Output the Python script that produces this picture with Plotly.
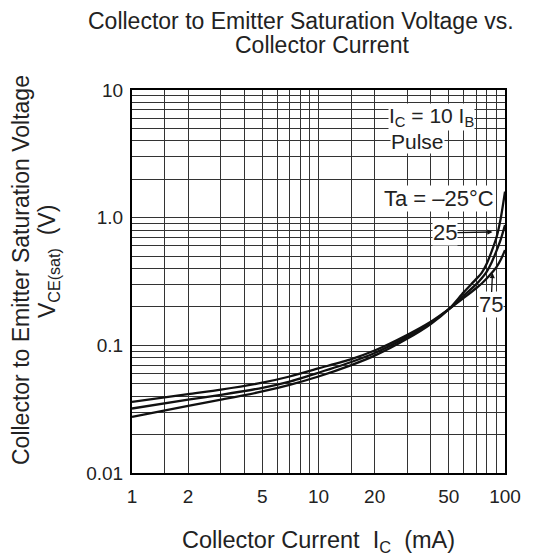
import math
import plotly.graph_objects as go

# ---- data ----
ic_ma = [1, 2, 3, 5, 7, 10, 15, 20, 30, 40, 50, 60, 70, 75, 80, 85, 90, 95, 100]
vce_75 = [0.036, 0.0415, 0.045, 0.051, 0.057, 0.066, 0.078, 0.091, 0.121, 0.153, 0.192,
          0.235, 0.280, 0.305, 0.335, 0.370, 0.410, 0.470, 0.557]
vce_25 = [0.032, 0.0375, 0.041, 0.0465, 0.052, 0.061, 0.074, 0.087, 0.117, 0.150, 0.192,
          0.245, 0.300, 0.335, 0.380, 0.450, 0.550, 0.680, 0.875]
vce_m25 = [0.0275, 0.0335, 0.0375, 0.0435, 0.049, 0.057, 0.070, 0.083, 0.113, 0.147, 0.192,
           0.260, 0.330, 0.370, 0.440, 0.550, 0.700, 1.000, 1.600]

x_grid = [1, 1.5, 2, 3, 4, 5, 6, 7, 8, 9, 10, 15, 20, 30, 40, 50, 60, 70, 80, 90, 100]
x_labels = ["1", "", "2", "", "", "5", "", "", "", "", "10", "", "20", "", "", "50", "", "", "", "", "100"]
y_grid = [m * d for d in (0.01, 0.1, 1) for m in range(1, 10)] + [10]
y_labels = ["0.01"] + [""] * 8 + ["0.1"] + [""] * 8 + ["1.0"] + [""] * 8 + ["10"]

FONT = "Liberation Sans, Arial, sans-serif"
OFF = 8                      # page body margin
W, H = 539 - OFF, 559 - OFF
# plot area in screenshot pixels: x 132..505, y 90..473
L, T = 132 - OFF, 90 - OFF
R = W - (505 - OFF)
B = H - (473 - OFF)
PW, PH = W - L - R, H - T - B

def px2paper(px, py):
    return (px - OFF - L) / PW, (H - B - (py - OFF)) / PH

fig = go.Figure()
for v in (vce_75, vce_25, vce_m25):
    fig.add_trace(go.Scatter(x=ic_ma, y=v, mode="lines",
                             line=dict(color="#111", width=2.3, shape="spline", smoothing=0.7),
                             showlegend=False, hoverinfo="skip"))

axis_common = dict(showline=True, linecolor="black", linewidth=2, mirror=True,
                   showgrid=True, gridcolor="#333", gridwidth=1, ticks="", zeroline=False,
                   tickfont=dict(family=FONT, size=19, color="#222"))

fig.update_layout(
    width=W, height=H, margin=dict(l=L, r=R, t=T, b=B),
    paper_bgcolor="white", plot_bgcolor="white",
    xaxis=dict(type="log", range=[0, 2], tickmode="array", tickvals=x_grid, ticktext=x_labels,
               ticklabelstandoff=5, **axis_common),
    yaxis=dict(type="log", range=[-2, 1], tickmode="array", tickvals=y_grid, ticktext=y_labels,
               ticklabelstandoff=3, **axis_common),
    font=dict(family=FONT, color="#222"),
)

ann = []
def text_ann(txt, px, py, size=23, angle=0, xanchor="center"):
    x, y = px2paper(px, py)
    ann.append(dict(text=txt, x=x, y=y, xref="paper", yref="paper", showarrow=False,
                    xanchor=xanchor, yanchor="middle", textangle=angle,
                    font=dict(family=FONT, size=size, color="#222")))

text_ann("Collector to Emitter Saturation Voltage vs.", 301, 21)
text_ann("Collector Current", 322, 45)
text_ann("Collector Current  I<sub>C</sub>  (mA)", 318, 541, size=23.5)
text_ann("Collector to Emitter Saturation Voltage", 21, 270, size=23, angle=-90)
text_ann("V<sub>CE(sat)</sub>  (V)", 48, 262, size=23, angle=-90)

def in_ann(txt, xl, yl, xanchor="left", arrow=False, ax=0, ay=0, size=22):
    d = dict(text=txt, x=xl, y=yl, xref="x", yref="y", xanchor=xanchor, yanchor="middle",
             bgcolor="white", borderpad=0,
             font=dict(family=FONT, size=size, color="#222"))
    if arrow:
        d.update(showarrow=True, ax=ax, ay=ay, arrowhead=2, arrowsize=0.8, arrowwidth=1.3,
                 arrowcolor="#111", xanchor="center")
    else:
        d.update(showarrow=False)
    ann.append(d)

in_ann("I<sub>C</sub> = 10 I<sub>B</sub>", 1.371, 0.785, size=21)
in_ann("Pulse", 1.381, 0.600, size=21)
in_ann("Ta = \u201325\u00b0C", 1.344, 0.154)
in_ann("25", 1.933, -0.112, arrow=True, ax=-47.5, ay=1)
in_ann("75", 1.933, -0.433, arrow=True, ax=-1.5, ay=32)

fig.update_layout(annotations=ann)
fig.write_html("out.html")
